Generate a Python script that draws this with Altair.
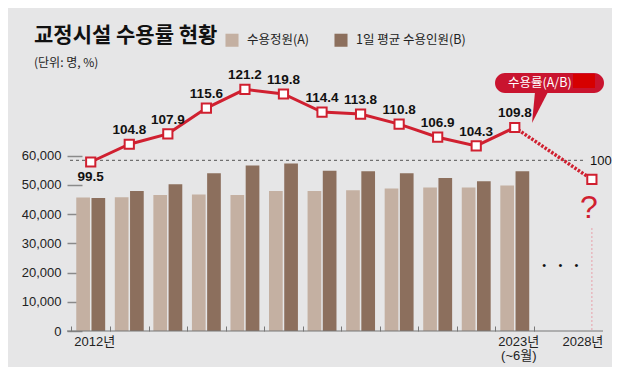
import altair as alt
import pandas as pd

# ---------------- data ----------------
years = ["2012", "2013", "2014", "2015", "2016", "2017",
         "2018", "2019", "2020", "2021", "2022", "2023"]
capacity = [45690, 45790, 46580, 46680, 46580, 47950,
            47950, 48180, 48730, 49080, 49080, 49760]          # 수용정원(A)
inmates = [45490, 47940, 50240, 54000, 56610, 57300,
           54800, 54680, 54000, 52400, 51270, 54690]          # 1일 평균 수용인원(B)
rate = [99.5, 104.8, 107.9, 115.6, 121.2, 119.8,
        114.4, 113.8, 110.8, 106.9, 104.3, 109.8]              # 수용률(A/B)
proj_years = ["2023", "2028"]
proj_rate = [109.8, 94.3]
target_rate = 100
series = ["수용정원(A)", "1일 평균 수용인원(B)"]
slots = years + ["gap", "2028"]
label_years = ["2012", "2023", "2028"]
tick_years = years + ["gap"]
y_ticks = [0, 10000, 20000, 30000, 40000, 50000, 60000]

title_text = "교정시설 수용률 현황"
unit_text = "(단위: 명, %)"
bubble_text = "수용률(A/B)"
NB = "\u00a0"
dots_text = "•" + NB * 4 + "•" + NB * 4 + "•"

# ---------------- styles ----------------
RED = "#d02030"
BUBBLE = "#c9142f"
LIGHT = "#c4b0a2"
DARK = "#8c6f5d"
BG = "#e6e6e7"
KR = "Noto Sans CJK KR"
LAT = "Liberation Sans, Noto Sans CJK KR"

bar_df = pd.DataFrame({
    "year": years * 2,
    "series": [series[0]] * len(years) + [series[1]] * len(years),
    "value": capacity + inmates,
})
rate_df = pd.DataFrame({"year": years, "rate": rate})
proj_df = pd.DataFrame({"year": proj_years, "rate": proj_rate})
pts_df = pd.concat([rate_df, proj_df[proj_df.year == "2028"]], ignore_index=True)
one = pd.DataFrame({"k": [0]})

xscale = alt.Scale(domain=slots, range=[4.45, 544.15], paddingInner=0.25, paddingOuter=0.125)
rate_scale = alt.Scale(domain=[49.05, 127.56], nice=False, zero=False)

bars = alt.Chart(bar_df).mark_bar().encode(
    x=alt.X("year:N", scale=xscale, sort=slots,
            axis=alt.Axis(orient="top", offset=-263, values=tick_years, labels=False,
                          domain=False, grid=False, bandPosition=0, tickOffset=-4.82,
                          tickSize=5, tickColor="#777", tickWidth=1, title=None)),
    xOffset=alt.XOffset("series:N", scale=alt.Scale(domain=series, paddingInner=0.1, paddingOuter=0)),
    y=alt.Y("value:Q", scale=alt.Scale(domain=[0, 90000], nice=False),
            axis=alt.Axis(values=y_ticks, format=",d", offset=-15, tickSize=15, labelPadding=6,
                          domain=False, grid=False, title=None, labelFont=LAT, labelFontSize=13,
                          labelColor="#222", tickColor="#8a8a8a", tickWidth=1.5)),
    color=alt.Color("series:N", scale=alt.Scale(domain=series, range=[LIGHT, DARK]),
                    legend=alt.Legend(orient="none", legendX=158, legendY=-35, direction="horizontal",
                                      title=None, symbolType="square", symbolSize=170,
                                      symbolStrokeWidth=0, labelFont=KR, labelFontSize=12.5,
                                      labelColor="#222", labelOffset=8, columnPadding=24, padding=0)),
)

baseline = alt.Chart(one).mark_rule(color="#777", strokeWidth=1).encode(
    x=alt.value(0), x2=alt.value(536), y=alt.value(263))

ref_rule = alt.Chart(pd.DataFrame({"rate": [target_rate]})).mark_rule(
    color="#555", strokeWidth=1, strokeDash=[3, 3]).encode(
    y=alt.Y("rate:Q", scale=rate_scale, axis=None), x=alt.value(3), x2=alt.value(518))

label_axis = alt.Axis(orient="bottom", values=label_years, ticks=False, domain=False, grid=False,
                      labelAngle=0, labelFont=LAT, labelFontSize=13, labelColor="#222",
                      labelPadding=4, labelLineHeight=14, title=None,
                      labelOffset={"condition": {"test": "datum.value == '2028'", "value": -9}, "value": 4},
                      labelExpr="datum.value == '2023' ? ['2023년', '(~6월)'] : datum.value + '년'")

line = alt.Chart(rate_df).mark_line(color=RED, strokeWidth=3).encode(
    x=alt.X("year:N", scale=xscale, sort=slots, axis=label_axis),
    y=alt.Y("rate:Q", scale=rate_scale, axis=None))

proj = alt.Chart(proj_df).mark_line(color=RED, strokeWidth=3.5, strokeDash=[2.5, 1.5]).encode(
    x=alt.X("year:N", scale=xscale, sort=slots, axis=None),
    y=alt.Y("rate:Q", scale=rate_scale, axis=None))

pink = alt.Chart(pd.DataFrame({"year": ["2028"]})).mark_rule(
    color="#e8a0aa", strokeWidth=1, strokeDash=[2, 2]).encode(
    x=alt.X("year:N", scale=xscale, sort=slots, axis=None), y=alt.value(160), y2=alt.value(263))

markers = alt.Chart(pts_df).mark_square(size=85, filled=True, fill="white", stroke=RED,
                                        strokeWidth=2, opacity=1).encode(
    x=alt.X("year:N", scale=xscale, sort=slots, axis=None),
    y=alt.Y("rate:Q", scale=rate_scale, axis=None))

labels_above = alt.Chart(rate_df).transform_filter(alt.datum.year != "2012").mark_text(
    font=LAT, fontSize=13.5, fontWeight="bold", color="#111", dy=-14, baseline="middle").encode(
    x=alt.X("year:N", scale=xscale, sort=slots, axis=None),
    y=alt.Y("rate:Q", scale=rate_scale, axis=None),
    text=alt.Text("rate:Q", format=".1f"))

labels_below = alt.Chart(rate_df).transform_filter(alt.datum.year == "2012").mark_text(
    font=LAT, fontSize=13.5, fontWeight="bold", color="#111", dy=15, baseline="middle").encode(
    x=alt.X("year:N", scale=xscale, sort=slots, axis=None),
    y=alt.Y("rate:Q", scale=rate_scale, axis=None),
    text=alt.Text("rate:Q", format=".1f"))

target_label = alt.Chart(pd.DataFrame({"year": ["2028"], "rate": [target_rate]})).mark_text(
    font=LAT, fontSize=13, color="#111", dx=9, dy=1, baseline="middle").encode(
    x=alt.X("year:N", scale=xscale, sort=slots, axis=None),
    y=alt.Y("rate:Q", scale=rate_scale, axis=None),
    text=alt.Text("rate:Q", format="d"))

qmark = alt.Chart(pd.DataFrame({"year": ["2028"], "t": ["?"]})).mark_text(
    font=LAT, fontSize=32, color=RED, dx=-3, baseline="middle").encode(
    x=alt.X("year:N", scale=xscale, sort=slots, axis=None), y=alt.value(140), text="t:N")

dots = alt.Chart(pd.DataFrame({"year": ["gap"], "t": [dots_text]})).mark_text(
    font=LAT, fontSize=11, color="#111", dx=7, baseline="middle").encode(
    x=alt.X("year:N", scale=xscale, sort=slots, axis=None), y=alt.value(198), text="t:N")

title = alt.Chart(pd.DataFrame({"t": [title_text]})).mark_text(
    font=KR, fontSize=21, fontWeight="bold", color="#111", align="left", baseline="middle").encode(
    x=alt.value(-33), y=alt.value(-32), text="t:N")

unit = alt.Chart(pd.DataFrame({"t": [unit_text]})).mark_text(
    font=KR, fontSize=12, color="#222", align="left", baseline="middle").encode(
    x=alt.value(-33), y=alt.value(-5), text="t:N")

bubble = alt.Chart(one).mark_rect(color=BUBBLE, cornerRadius=10).encode(
    x=alt.value(428), x2=alt.value(537), y=alt.value(5), y2=alt.value(25))

pointer = alt.Chart(one).mark_point(shape="M-0.5,-1.6L0.8,-1.6L-0.8,1.5Z", size=400, filled=True,
                                    color=BUBBLE, opacity=1).encode(
    x=alt.value(473), y=alt.value(40))

bubble_label = alt.Chart(pd.DataFrame({"t": [bubble_text]})).mark_text(
    font=KR, fontSize=12.5, color="white", align="left", baseline="middle").encode(
    x=alt.value(441), y=alt.value(15), text="t:N")

block = alt.Chart(one).mark_rect(color="#d60000").encode(
    x=alt.value(506), x2=alt.value(528), y=alt.value(6), y2=alt.value(20))

chart = alt.layer(
    bars, baseline, ref_rule, pink, line, proj, markers, labels_above, labels_below,
    target_label, qmark, dots, title, unit, bubble, pointer, bubble_label, block,
).resolve_scale(y="independent").resolve_axis(x="independent", y="independent").properties(
    width=536, height=263,
    padding={"left": 59, "top": 60, "right": 9, "bottom": 36},
    autosize=alt.AutoSizeParams(type="none"),
    background=BG,
).configure_view(stroke=None)

chart.save("out.html", embed_options={"renderer": "svg", "actions": False})
